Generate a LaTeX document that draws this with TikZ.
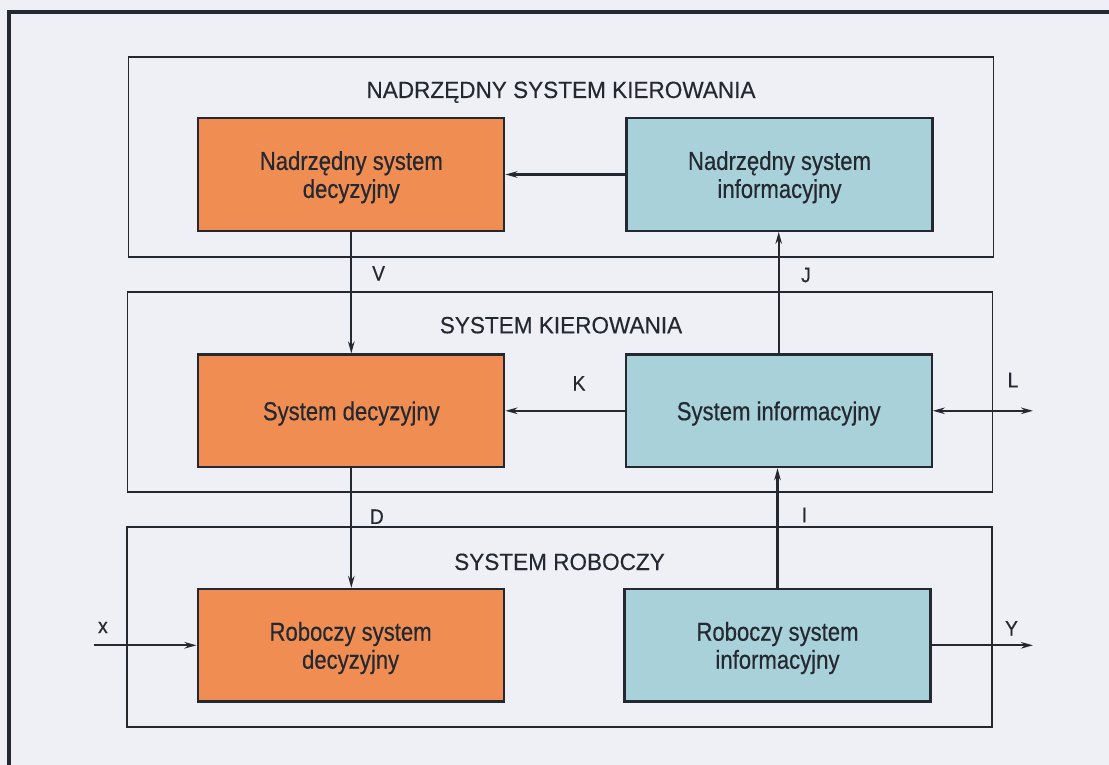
\documentclass[tikz,border=0pt]{standalone}
\usepackage{fontspec}
\setmainfont{Liberation Sans}
\newfontfamily\boxfont{Liberation Sans}[FakeStretch=0.85, FakeBold=0.4]
\newfontfamily\ttlfont{Liberation Sans}[FakeStretch=0.96, FakeBold=0.3]
\newfontfamily\lblfont{Liberation Sans}[FakeStretch=0.92, FakeBold=0.4]
\usetikzlibrary{arrows.meta}
\definecolor{bg}{RGB}{238,240,245}
\definecolor{orng}{RGB}{239,141,82}
\definecolor{cyn}{RGB}{168,209,217}
\definecolor{ink}{RGB}{36,40,48}
\begin{document}
\begin{tikzpicture}[x=1pt,y=-1pt,
  sysbox/.style={draw=ink, line width=2.2pt, inner sep=0pt, align=center, text=ink,
    text depth=0pt, minimum width=306pt, minimum height=112.5pt,
    font=\boxfont\fontsize{26}{28}\selectfont},
  dec/.style={sysbox, fill=orng},
  inf/.style={sysbox, fill=cyn},
  grp/.style={draw=ink, line width=1.8pt, inner sep=0pt, minimum width=865pt, minimum height=200pt},
  ttl/.style={text=ink, anchor=base, inner sep=0pt, font=\ttlfont\fontsize{23.5}{23.5}\selectfont},
  lbl/.style={text=ink, font=\lblfont\fontsize{21}{21}\selectfont, inner sep=0pt},
  tip/.tip={Stealth[length=12pt,width=6.5pt]},
  conn/.style={draw=ink, line width=2.2pt, -tip},
]
\fill[bg] (0,0) rectangle (1109,765);
\useasboundingbox (0,0) rectangle (1109,765);
% outer frame
\draw[ink, line width=3.8pt] (8.9,765) -- (8.9,12) -- (1109,12);
% group boxes
\node[grp] (g1) at (561,157.3) {};
\node[grp] (g2) at (560,392.3) {};
\node[grp] (g3) at (559.3,626.8) {};
% titles
\node[ttl] (t1) at (561,98) {NADRZĘDNY SYSTEM KIEROWANIA};
\node[ttl] (t2) at (561,333.3) {SYSTEM KIEROWANIA};
\node[ttl] (t3) at (559.5,570) {SYSTEM ROBOCZY};
% system boxes
\node[dec] (ndec) at (351.3,174.5) {Nadrzędny system\\decyzyjny};
\node[inf] (ninf) at (779.5,174.5) {Nadrzędny system\\informacyjny};
\node[dec] (sdec) at (351.3,410.8) {System decyzyjny};
\node[inf] (sinf) at (778.7,410.8) {System informacyjny};
\node[dec] (rdec) at (350.6,645.3) {Roboczy system\\decyzyjny};
\node[inf] (rinf) at (777.5,645.3) {Roboczy system\\informacyjny};
% connectors
\draw[conn] (ninf.west) -- (ndec.east);
\draw[conn] (ndec.south) -- (sdec.north);
\draw[conn] (sinf.west) -- (sdec.east);
\draw[conn] (sinf.north) -- (sinf.north |- ninf.south);
\draw[conn] (sdec.south) -- (sdec.south |- rdec.north);
\draw[conn] (rinf.north) -- (rinf.north |- sinf.south);
\coordinate (Lend) at (1033,410.8);
\draw[conn, tip-tip] (sinf.east) -- (Lend);
\coordinate (xin) at (93.6,645.3);
\draw[conn] (xin) -- (rdec.west);
\coordinate (yout) at (1033,645.3);
\draw[conn] (rinf.east) -- (yout);
% labels
\node[lbl] (lV) at (378.6,273.3) {V};
\node[lbl] (lD) at (376.8,516.7) {D};
\node[lbl] (lK) at (579,383.3) {K};
\node[lbl] (lJ) at (806,275) {J};
\node[lbl] (lI) at (804.4,515) {I};
\node[lbl] (lL) at (1013,380) {L};
\node[lbl] (lx) at (102.9,627.5) {x};
\node[lbl] (lY) at (1011.5,628.3) {Y};
\end{tikzpicture}
\end{document}
